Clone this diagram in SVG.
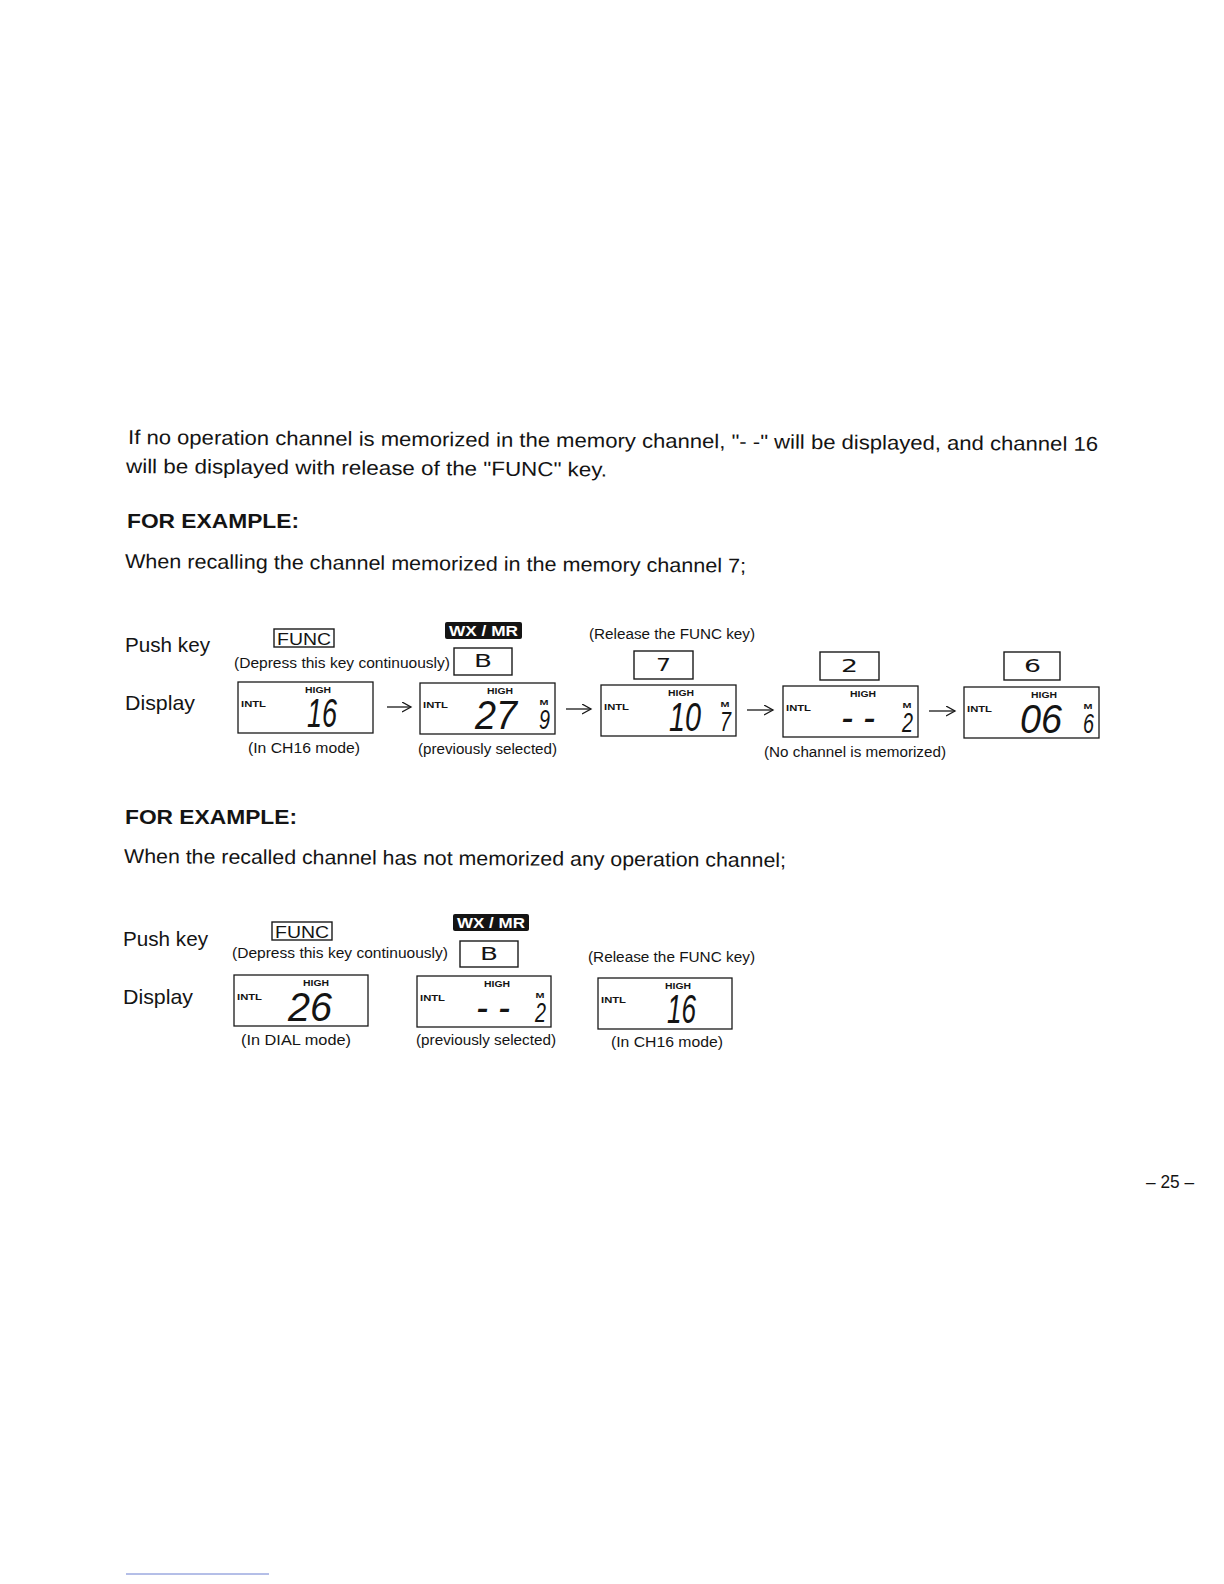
<svg xmlns="http://www.w3.org/2000/svg" width="1224" height="1584" viewBox="0 0 1224 1584">
<style>
.t{font-family:"Liberation Sans",Arial,sans-serif;fill:#141414}
.body{font-size:20px}
.b{font-weight:bold}
.sm{font-size:14px}
.lab{font-size:9.5px;font-weight:bold}
.m{font-size:8px;font-weight:bold}
.seg{font-size:41px;font-style:italic}
.mem{font-size:27px;font-style:italic}
.key{font-family:"DejaVu Sans","Liberation Sans",sans-serif;font-size:17px;fill:#141414}
.box{fill:#fff;stroke:#1a1a1a;stroke-width:1.3}
.kbox{fill:none;stroke:#1a1a1a;stroke-width:1.4}
.wx{fill:#141414}
.wxt{font-family:"Liberation Sans",Arial,sans-serif;font-size:14.5px;font-weight:bold;fill:#fff}
.arrow{stroke:#1a1a1a;stroke-width:1.3;fill:none;marker-end:url(#ah)}
</style>
<defs>
<marker id="ah" markerUnits="userSpaceOnUse" markerWidth="12" markerHeight="12" refX="9" refY="5" orient="auto">
<path d="M0,0 L9,5 L0,10" fill="none" stroke="#1a1a1a" stroke-width="1.3"/>
</marker>
</defs>
<rect width="1224" height="1584" fill="#fff"/>

<g id="intro">
<text class="t body" x="128" y="444" transform="rotate(0.41 128 444)" textLength="970" lengthAdjust="spacingAndGlyphs">If no operation channel is memorized in the memory channel, "- -" will be displayed, and channel 16</text>
<text class="t body" x="126" y="473" transform="rotate(0.41 126 473)" textLength="481" lengthAdjust="spacingAndGlyphs">will be displayed with release of the "FUNC" key.</text>
</g>

<g id="example1-heading">
<text class="t body b" x="127" y="528" font-size="19" textLength="172" lengthAdjust="spacingAndGlyphs">FOR EXAMPLE:</text>
<text class="t body" x="125" y="568" transform="rotate(0.42 125 568)" textLength="621" lengthAdjust="spacingAndGlyphs">When recalling the channel memorized in the memory channel 7;</text>
<text class="t" x="125" y="652" font-size="20.5" textLength="85" lengthAdjust="spacingAndGlyphs">Push key</text>
<text class="t" x="125" y="710" font-size="21" textLength="70" lengthAdjust="spacingAndGlyphs">Display</text>
<text class="t sm" x="234" y="668" textLength="216" lengthAdjust="spacingAndGlyphs">(Depress this key continuously)</text>
<text class="t sm" x="589" y="639" textLength="166" lengthAdjust="spacingAndGlyphs">(Release the FUNC key)</text>
<text class="t sm" x="248" y="753" textLength="112" lengthAdjust="spacingAndGlyphs">(In CH16 mode)</text>
<text class="t sm" x="418" y="754" textLength="139" lengthAdjust="spacingAndGlyphs">(previously selected)</text>
<text class="t sm" x="764" y="757" textLength="182" lengthAdjust="spacingAndGlyphs">(No channel is memorized)</text>
</g>

<g id="key-func-1">
<rect class="kbox" x="274" y="629" width="60" height="18"/>
<text class="t" x="277" y="645" font-size="17" textLength="54" lengthAdjust="spacingAndGlyphs">FUNC</text>
</g>
<g id="key-wxmr-1">
<rect class="wx" x="445" y="622" width="77" height="17" rx="2"/>
<text class="wxt" x="449" y="636" textLength="69" lengthAdjust="spacingAndGlyphs">WX / MR</text>
</g>
<g id="key-b-1">
<rect class="kbox" x="454" y="648" width="58" height="27"/>
<text class="key" x="474" y="667" textLength="18" lengthAdjust="spacingAndGlyphs">B</text>
</g>
<g id="key-7">
<rect class="kbox" x="634" y="651" width="59" height="28"/>
<text class="key" x="656" y="671" textLength="15" lengthAdjust="spacingAndGlyphs">7</text>
</g>
<g id="key-2">
<rect class="kbox" x="820" y="652" width="59" height="28"/>
<text class="key" x="841" y="672" textLength="17" lengthAdjust="spacingAndGlyphs">2</text>
</g>
<g id="key-6">
<rect class="kbox" x="1004" y="652" width="56" height="28"/>
<text class="key" x="1024" y="672" textLength="17" lengthAdjust="spacingAndGlyphs">6</text>
</g>

<g id="lcd-1" transform="translate(238 682)">
<rect class="box" width="135" height="51"/>
<text class="t lab" x="67" y="11" textLength="26" lengthAdjust="spacingAndGlyphs">HIGH</text>
<text class="t lab" x="3" y="25" textLength="25" lengthAdjust="spacingAndGlyphs">INTL</text>
<text class="t seg" x="69" y="45" textLength="30" lengthAdjust="spacingAndGlyphs">16</text>
</g>
<g id="lcd-2" transform="translate(420 683)">
<rect class="box" width="135" height="51"/>
<text class="t lab" x="67" y="11" textLength="26" lengthAdjust="spacingAndGlyphs">HIGH</text>
<text class="t lab" x="3" y="25" textLength="25" lengthAdjust="spacingAndGlyphs">INTL</text>
<text class="t seg" x="55" y="46" textLength="42" lengthAdjust="spacingAndGlyphs">27</text>
<text class="t m" x="119.5" y="22" textLength="9" lengthAdjust="spacingAndGlyphs">M</text>
<text class="t mem" x="119" y="46" textLength="11" lengthAdjust="spacingAndGlyphs">9</text>
</g>
<g id="lcd-3" transform="translate(601 685)">
<rect class="box" width="135" height="51"/>
<text class="t lab" x="67" y="11" textLength="26" lengthAdjust="spacingAndGlyphs">HIGH</text>
<text class="t lab" x="3" y="25" textLength="25" lengthAdjust="spacingAndGlyphs">INTL</text>
<text class="t seg" x="68" y="46" textLength="32" lengthAdjust="spacingAndGlyphs">10</text>
<text class="t m" x="119.5" y="22" textLength="9" lengthAdjust="spacingAndGlyphs">M</text>
<text class="t mem" x="119" y="46" textLength="11" lengthAdjust="spacingAndGlyphs">7</text>
</g>
<g id="lcd-4" transform="translate(783 686)">
<rect class="box" width="135" height="51"/>
<text class="t lab" x="67" y="11" textLength="26" lengthAdjust="spacingAndGlyphs">HIGH</text>
<text class="t lab" x="3" y="25" textLength="25" lengthAdjust="spacingAndGlyphs">INTL</text>
<text class="t seg" x="58" y="45" textLength="34" lengthAdjust="spacingAndGlyphs">- -</text>
<text class="t m" x="119.5" y="22" textLength="9" lengthAdjust="spacingAndGlyphs">M</text>
<text class="t mem" x="119" y="46" textLength="11" lengthAdjust="spacingAndGlyphs">2</text>
</g>
<g id="lcd-5" transform="translate(964 687)">
<rect class="box" width="135" height="51"/>
<text class="t lab" x="67" y="11" textLength="26" lengthAdjust="spacingAndGlyphs">HIGH</text>
<text class="t lab" x="3" y="25" textLength="25" lengthAdjust="spacingAndGlyphs">INTL</text>
<text class="t seg" x="56" y="46" textLength="42" lengthAdjust="spacingAndGlyphs">06</text>
<text class="t m" x="119.5" y="22" textLength="9" lengthAdjust="spacingAndGlyphs">M</text>
<text class="t mem" x="119" y="46" textLength="11" lengthAdjust="spacingAndGlyphs">6</text>
</g>

<g id="connectors">
<path class="arrow" d="M387 707 H411"/>
<path class="arrow" d="M566 709 H591"/>
<path class="arrow" d="M747 710 H773"/>
<path class="arrow" d="M929 711 H955"/>
</g>

<g id="example2-heading">
<text class="t body b" x="125" y="824" font-size="19" textLength="172" lengthAdjust="spacingAndGlyphs">FOR EXAMPLE:</text>
<text class="t body" x="124" y="863" transform="rotate(0.35 124 863)" textLength="662" lengthAdjust="spacingAndGlyphs">When the recalled channel has not memorized any operation channel;</text>
<text class="t" x="123" y="946" font-size="20.5" textLength="85" lengthAdjust="spacingAndGlyphs">Push key</text>
<text class="t" x="123" y="1004" font-size="21" textLength="70" lengthAdjust="spacingAndGlyphs">Display</text>
<text class="t sm" x="232" y="958" textLength="216" lengthAdjust="spacingAndGlyphs">(Depress this key continuously)</text>
<text class="t sm" x="588" y="962" textLength="167" lengthAdjust="spacingAndGlyphs">(Release the FUNC key)</text>
<text class="t sm" x="241" y="1045" textLength="110" lengthAdjust="spacingAndGlyphs">(In DIAL mode)</text>
<text class="t sm" x="416" y="1045" textLength="140" lengthAdjust="spacingAndGlyphs">(previously selected)</text>
<text class="t sm" x="611" y="1047" textLength="112" lengthAdjust="spacingAndGlyphs">(In CH16 mode)</text>
</g>

<g id="key-func-2">
<rect class="kbox" x="272" y="922" width="60" height="18"/>
<text class="t" x="275" y="938" font-size="17" textLength="54" lengthAdjust="spacingAndGlyphs">FUNC</text>
</g>
<g id="key-wxmr-2">
<rect class="wx" x="453" y="914" width="76" height="17" rx="2"/>
<text class="wxt" x="457" y="928" textLength="68" lengthAdjust="spacingAndGlyphs">WX / MR</text>
</g>
<g id="key-b-2">
<rect class="kbox" x="460" y="941" width="58" height="26"/>
<text class="key" x="480" y="960" textLength="18" lengthAdjust="spacingAndGlyphs">B</text>
</g>

<g id="lcd-a" transform="translate(234 975)">
<rect class="box" width="134" height="51"/>
<text class="t lab" x="69" y="11" textLength="26" lengthAdjust="spacingAndGlyphs">HIGH</text>
<text class="t lab" x="3" y="25" textLength="25" lengthAdjust="spacingAndGlyphs">INTL</text>
<text class="t seg" x="54" y="46" textLength="44" lengthAdjust="spacingAndGlyphs">26</text>
</g>
<g id="lcd-b" transform="translate(417 976)">
<rect class="box" width="134" height="51"/>
<text class="t lab" x="67" y="11" textLength="26" lengthAdjust="spacingAndGlyphs">HIGH</text>
<text class="t lab" x="3" y="25" textLength="25" lengthAdjust="spacingAndGlyphs">INTL</text>
<text class="t seg" x="59" y="45" textLength="34" lengthAdjust="spacingAndGlyphs">- -</text>
<text class="t m" x="118.5" y="22" textLength="9" lengthAdjust="spacingAndGlyphs">M</text>
<text class="t mem" x="118" y="46" textLength="11" lengthAdjust="spacingAndGlyphs">2</text>
</g>
<g id="lcd-c" transform="translate(598 978)">
<rect class="box" width="134" height="51"/>
<text class="t lab" x="67" y="11" textLength="26" lengthAdjust="spacingAndGlyphs">HIGH</text>
<text class="t lab" x="3" y="25" textLength="25" lengthAdjust="spacingAndGlyphs">INTL</text>
<text class="t seg" x="69" y="45" textLength="29" lengthAdjust="spacingAndGlyphs">16</text>
</g>

<g id="footer">
<text class="t" x="1146" y="1188" font-size="19" textLength="48" lengthAdjust="spacingAndGlyphs">– 25 –</text>
<line x1="126" y1="1574" x2="269" y2="1574" stroke="#6a7fd0" stroke-width="1"/>
</g>
</svg>
